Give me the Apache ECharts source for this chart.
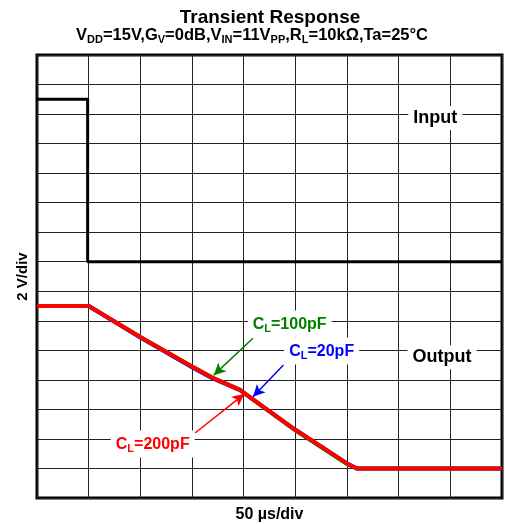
<!DOCTYPE html>
<html>
<head>
<meta charset="utf-8">
<script src="https://cdn.jsdelivr.net/npm/echarts@6/dist/echarts.min.js"></script>
<style>
  html, body { margin: 0; padding: 0; background: #fff; }
  #chart { width: 505px; height: 524px; }
</style>
</head>
<body>
<div id="chart"></div>
<script>
// Scope screen: 9 horizontal divisions (50 µs/div), 15 vertical divisions (2 V/div)
const xRange = [0, 9];
const yRange = [0, 15];

// Input step (divisions)
const inputX = [0, 0.98, 0.98, 9];
const inputY = [13.5, 13.5, 8, 8];

// Output slew for three load capacitances (divisions)
const outX     = [0,   1.0, 2.0,  3.0,  3.4,  3.93, 4.0,  5.0,  6.0,  6.19, 9];
const out20pF  = [6.5, 6.5, 5.43, 4.43, 4.05, 3.65, 3.56, 2.31, 1.17, 1.0,  1.0];
const out100pF = [6.5, 6.5, 5.45, 4.45, 4.07, 3.66, 3.57, 2.29, 1.15, 1.0,  1.0];
const out200pF = [6.5, 6.5, 5.45, 4.45, 4.07, 3.66, 3.57, 2.31, 1.17, 1.0,  1.0];

// Trace annotations
const tagNames  = ['100pF', '20pF', '200pF'];
const tagColors = ['#008000', '#0000ff', '#ff0000'];
const tagPos    = [[4.89, 5.89], [5.51, 4.98], [2.24, 1.83]];
const arrowFrom = [[4.18, 5.41], [4.77, 4.50], [3.06, 2.20]];
const arrowTo   = [[3.42, 4.16], [4.18, 3.43], [4.01, 3.52]];

const FONT = "'Liberation Sans', Arial, sans-serif";

function pairs(xs, ys) { return xs.map((x, i) => [x, ys[i]]); }

function traceSeries(name, ys, color, width) {
  return {
    name, type: 'line', data: pairs(outX, ys), showSymbol: false, symbol: 'none',
    lineStyle: { color, width }, silent: true, animation: false, z: 3
  };
}

function tagSeries(i) {
  const color = tagColors[i];
  return {
    type: 'scatter', symbolSize: 0, silent: true, animation: false, z: 6,
    itemStyle: { opacity: 1 },
    data: [tagPos[i]],
    label: {
      show: true, position: 'inside',
      formatter: '{a|C}{s|L}{a|=' + tagNames[i] + '}',
      backgroundColor: '#fff', padding: [4, 5, 3, 5],
      rich: {
        a: { fontFamily: FONT, fontWeight: 'bold', fontSize: 16, color, lineHeight: 20, verticalAlign: 'middle' },
        s: { fontFamily: FONT, fontWeight: 'bold', fontSize: 11, color, lineHeight: 20, verticalAlign: 'bottom' }
      }
    },
    markLine: {
      silent: true, animation: false,
      symbol: ['none', 'arrow'], symbolSize: [9, 12],
      label: { show: false },
      lineStyle: { color, width: 1.5, type: 'solid', opacity: 1 },
      data: [[{ coord: arrowFrom[i] }, { coord: arrowTo[i] }]]
    }
  };
}

function plainTag(text, pos) {
  return {
    type: 'scatter', symbolSize: 0, silent: true, animation: false, z: 6,
    itemStyle: { opacity: 1 },
    data: [pos],
    label: {
      show: true, position: 'inside', formatter: text,
      fontFamily: FONT, fontWeight: 'bold', fontSize: 18, color: '#000',
      backgroundColor: '#fff', padding: [3, 5, 3, 5]
    }
  };
}

const subRich = {
  m: { fontFamily: FONT, fontWeight: 'bold', fontSize: 16.5, color: '#000', lineHeight: 20, verticalAlign: 'middle' },
  s: { fontFamily: FONT, fontWeight: 'bold', fontSize: 11, color: '#000', lineHeight: 20, verticalAlign: 'bottom' }
};

const chart = echarts.init(document.getElementById('chart'), null, { renderer: 'canvas' });
chart.setOption({
  animation: false,
  backgroundColor: '#fff',
  graphic: [
    {
      type: 'text', x: 270, y: 18, silent: true,
      style: {
        text: 'Transient Response', fill: '#000',
        font: 'bold 19px ' + FONT, textAlign: 'center', textVerticalAlign: 'middle'
      }
    },
    {
      type: 'text', x: 252, y: 35, silent: true,
      style: {
        text: '{m|V}{s|DD}{m|=15V,G}{s|V}{m|=0dB,V}{s|IN}{m|=11V}{s|PP}{m|,R}{s|L}{m|=10kΩ,Ta=25°C}',
        rich: subRich, textAlign: 'center', textVerticalAlign: 'middle'
      }
    }
  ],
  grid: {
    left: 37, right: 3, top: 55, bottom: 26,
    outerBoundsMode: 'none', containLabel: false,
    show: true, borderColor: '#000', borderWidth: 3, backgroundColor: 'transparent'
  },
  xAxis: {
    type: 'value', min: xRange[0], max: xRange[1], interval: 1,
    name: '50 µs/div', nameLocation: 'middle', nameGap: 9,
    nameTextStyle: { fontFamily: FONT, fontWeight: 'bold', fontSize: 16, color: '#000', verticalAlign: 'top' },
    axisLine: { show: false }, axisTick: { show: false }, axisLabel: { show: false },
    splitLine: { show: true, lineStyle: { color: '#222', width: 1 } }
  },
  yAxis: {
    type: 'value', min: yRange[0], max: yRange[1], interval: 1,
    name: '2 V/div', nameLocation: 'middle', nameGap: 7,
    nameTextStyle: { fontFamily: FONT, fontWeight: 'bold', fontSize: 15, color: '#000' },
    axisLine: { show: false }, axisTick: { show: false }, axisLabel: { show: false },
    splitLine: { show: true, lineStyle: { color: '#222', width: 1 } }
  },
  series: [
    {
      name: 'Input', type: 'line', data: pairs(inputX, inputY), showSymbol: false, symbol: 'none',
      lineStyle: { color: '#000', width: 3 }, silent: true, animation: false, z: 3
    },
    traceSeries('CL=20pF', out20pF, '#0000ff', 4),
    traceSeries('CL=100pF', out100pF, '#008000', 4),
    traceSeries('CL=200pF', out200pF, '#ff0000', 4),
    tagSeries(0), tagSeries(1), tagSeries(2),
    plainTag('Input', [7.71, 12.87]),
    plainTag('Output', [7.84, 4.77])
  ]
});
</script>
</body>
</html>
